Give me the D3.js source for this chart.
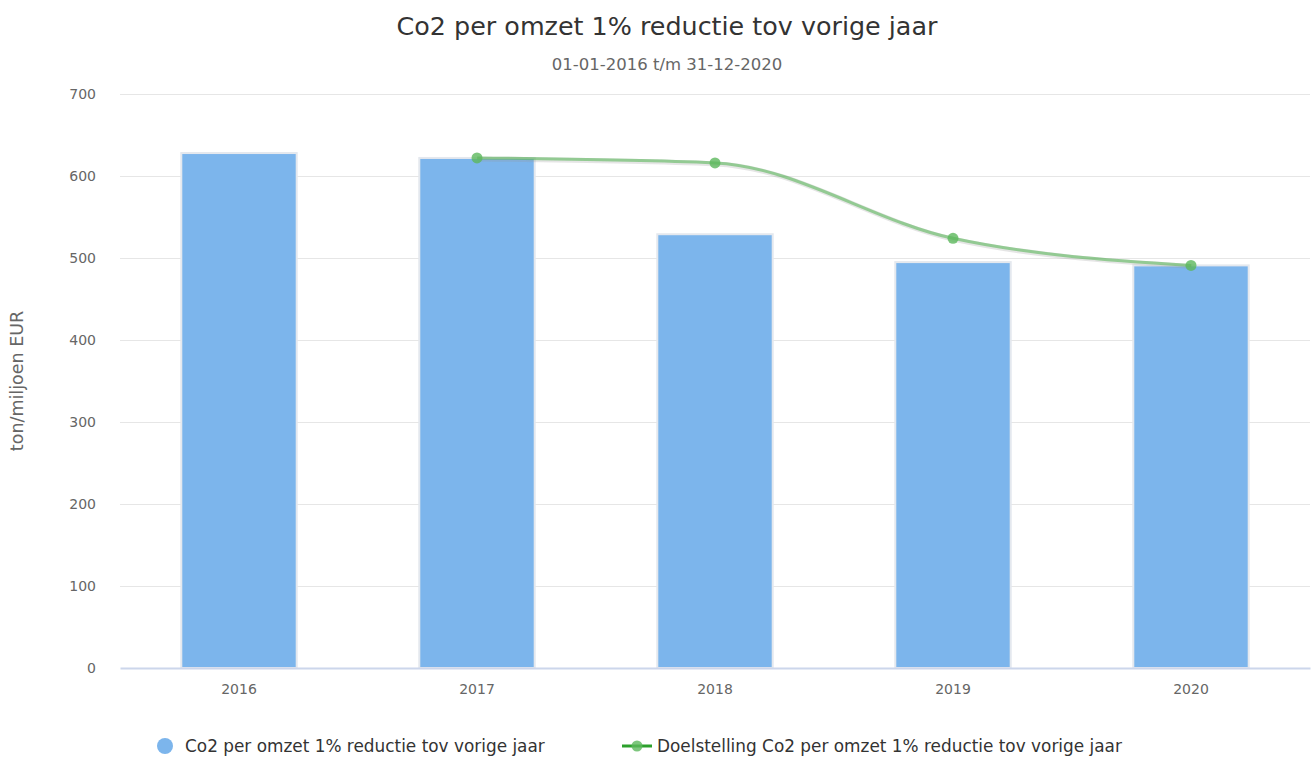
<!DOCTYPE html>
<html>
<head>
<meta charset="utf-8">
<script src="https://cdn.jsdelivr.net/npm/d3@7"></script>
<style>
    body { margin: 0; background: #fff; }
    text { font-family: "DejaVu Sans", Verdana, sans-serif; }
</style>
</head>
<body>
<div id="chart"></div>
<script>
// data
let years = ["2016", "2017", "2018", "2019", "2020"];
let co2Values = [628, 622, 529, 495, 491];
let targetYears = ["2017", "2018", "2019", "2020"];
let targetValues = [622, 616, 524, 491];
let yTicks = [0, 100, 200, 300, 400, 500, 600, 700];

let width = 1311, height = 758;
let margin = {top: 94, right: 1, bottom: 90, left: 120};

let svg = d3.select("#chart").append("svg")
    .attr("width", width)
    .attr("height", height);

// title
svg.append("text")
    .attr("x", 667)
    .attr("y", 35)
    .attr("text-anchor", "middle")
    .style("font-size", "25.4px")
    .style("fill", "#333")
    .text("Co2 per omzet 1% reductie tov vorige jaar");

svg.append("text")
    .attr("x", 667)
    .attr("y", 70)
    .attr("text-anchor", "middle")
    .style("font-size", "16.5px")
    .style("fill", "#666")
    .text("01-01-2016 t/m 31-12-2020");

// scales
let x = d3.scaleBand()
    .domain(years)
    .range([margin.left, width - margin.right])
    .paddingInner(0.515)
    .paddingOuter(0.2575);

let y = d3.scaleLinear()
    .domain([0, 700])
    .range([height - margin.bottom, margin.top]);

// gridlines
svg.append("g")
    .selectAll("line")
    .data(yTicks.slice(1))
    .enter().append("line")
    .attr("x1", margin.left)
    .attr("x2", width - margin.right)
    .attr("y1", d => Math.round(y(d)) + 0.5)
    .attr("y2", d => Math.round(y(d)) + 0.5)
    .style("stroke", "#e6e6e6");

// y axis labels
let yAxis = d3.axisLeft(y).tickValues(yTicks).tickSize(0).tickPadding(24);
let yg = svg.append("g")
    .attr("transform", `translate(${margin.left}, 0)`)
    .call(yAxis);
yg.select(".domain").remove();
yg.selectAll("text")
    .style("font-size", "14px")
    .style("fill", "#666")
    .attr("dy", "0.35em");

// y axis title
svg.append("text")
    .attr("transform", `translate(23, ${y(350)}) rotate(-90)`)
    .attr("text-anchor", "middle")
    .style("font-size", "17.5px")
    .style("fill", "#666")
    .text("ton/miljoen EUR");

// bars
svg.append("g")
    .selectAll("rect")
    .data(years)
    .enter().append("rect")
    .attr("x", d => x(d))
    .attr("y", (d, i) => y(co2Values[i]))
    .attr("width", x.bandwidth())
    .attr("height", (d, i) => y(0) - y(co2Values[i]))
    .style("fill", "#7cb5ec")
    .style("stroke", "#e4e8ee")
    .style("stroke-width", 2);

// x axis
let xAxis = d3.axisBottom(x).tickSize(0).tickPadding(16);
let xg = svg.append("g")
    .attr("transform", `translate(0, ${y(0)})`)
    .call(xAxis);
xg.select(".domain")
    .style("stroke", "#ccd6eb")
    .style("stroke-width", 2);
xg.selectAll("text")
    .style("font-size", "14px")
    .style("fill", "#666");

// target line
let line = d3.line()
    .x((d, i) => x(targetYears[i]) + x.bandwidth() / 2)
    .y(d => y(d))
    .curve(d3.curveMonotoneX);

svg.append("path")
    .datum(targetValues)
    .attr("d", line)
    .style("fill", "none")
    .style("stroke", "#999")
    .style("stroke-opacity", 0.25)
    .style("stroke-width", 5)
    .attr("transform", "translate(1,1)");

svg.append("path")
    .datum(targetValues)
    .attr("d", line)
    .style("fill", "none")
    .style("stroke", "#5cb85c")
    .style("stroke-opacity", 0.6)
    .style("stroke-width", 3);

svg.append("g")
    .selectAll("circle")
    .data(targetValues)
    .enter().append("circle")
    .attr("cx", (d, i) => x(targetYears[i]) + x.bandwidth() / 2)
    .attr("cy", d => y(d))
    .attr("r", 5.5)
    .style("fill", "#5cb85c")
    .style("fill-opacity", 0.8);

// legend
let legend = svg.append("g").attr("transform", "translate(0, 746)");

legend.append("circle")
    .attr("cx", 165)
    .attr("cy", 0)
    .attr("r", 8)
    .style("fill", "#7cb5ec");

legend.append("text")
    .attr("x", 185)
    .attr("y", 0)
    .attr("dy", "0.35em")
    .style("font-size", "16.9px")
    .style("fill", "#333")
    .text("Co2 per omzet 1% reductie tov vorige jaar");

legend.append("line")
    .attr("x1", 622)
    .attr("x2", 652)
    .attr("y1", 0)
    .attr("y2", 0)
    .style("stroke", "#2ca02c")
    .style("stroke-width", 3);

legend.append("circle")
    .attr("cx", 637)
    .attr("cy", 0)
    .attr("r", 5.5)
    .style("fill", "#5cb85c")
    .style("fill-opacity", 0.8);

legend.append("text")
    .attr("x", 657)
    .attr("y", 0)
    .attr("dy", "0.35em")
    .style("font-size", "16.9px")
    .style("fill", "#333")
    .text("Doelstelling Co2 per omzet 1% reductie tov vorige jaar");
</script>
</body>
</html>
